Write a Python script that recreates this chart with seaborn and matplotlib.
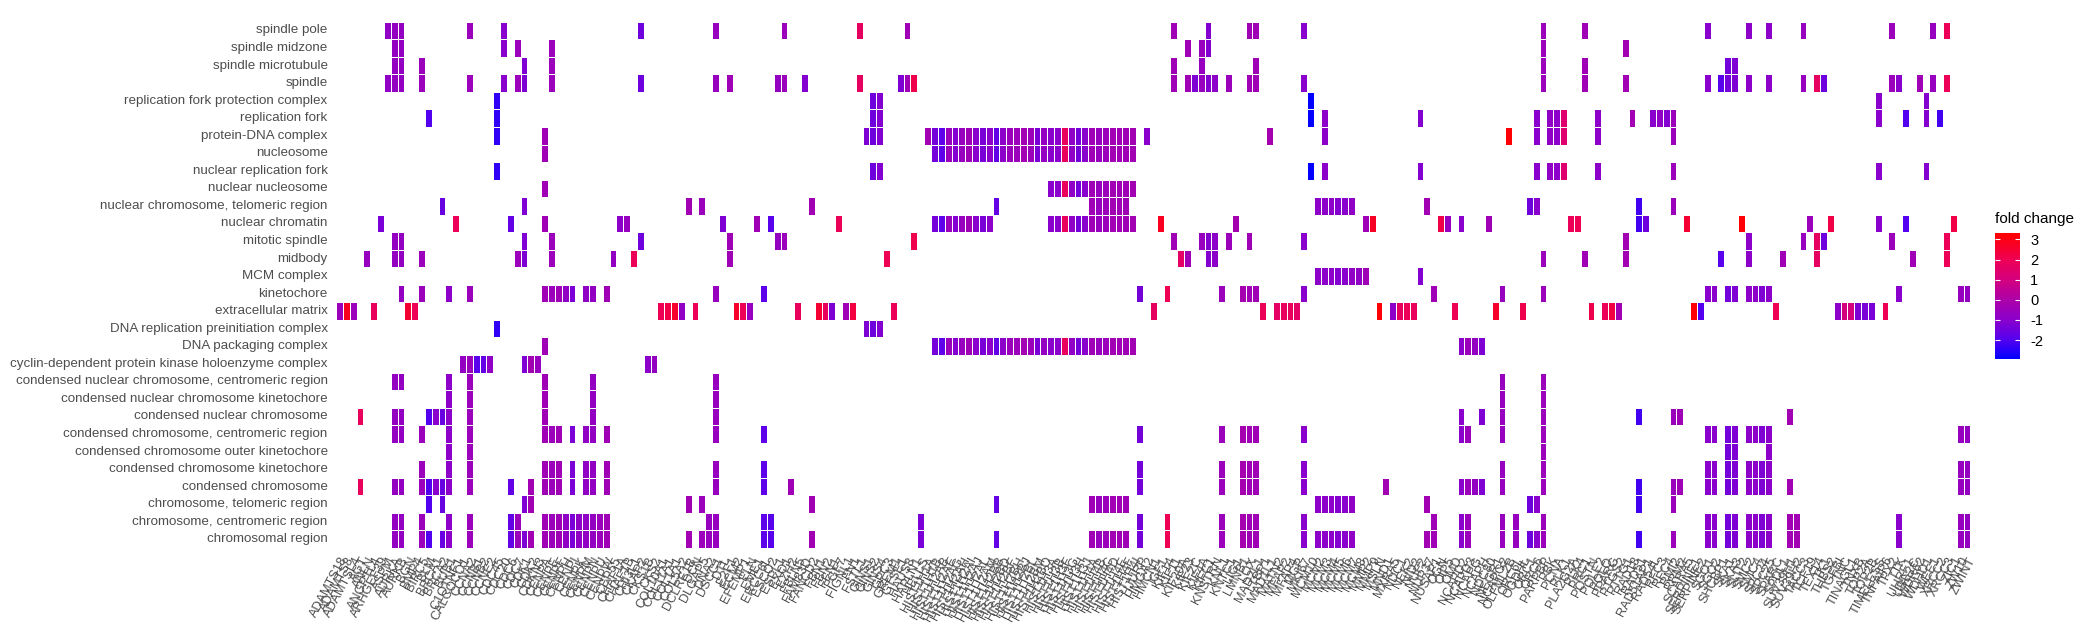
import numpy as np
import pandas as pd
import matplotlib
matplotlib.use("Agg")
import matplotlib.pyplot as plt
import seaborn as sns
from matplotlib.colors import LinearSegmentedColormap

# GO terms, top to bottom
go_terms = [
    "spindle pole", "spindle midzone", "spindle microtubule", "spindle",
    "replication fork protection complex", "replication fork", "protein-DNA complex",
    "nucleosome", "nuclear replication fork", "nuclear nucleosome",
    "nuclear chromosome, telomeric region", "nuclear chromatin", "mitotic spindle",
    "midbody", "MCM complex", "kinetochore", "extracellular matrix",
    "DNA replication preinitiation complex", "DNA packaging complex",
    "cyclin-dependent protein kinase holoenzyme complex",
    "condensed nuclear chromosome, centromeric region",
    "condensed nuclear chromosome kinetochore", "condensed nuclear chromosome",
    "condensed chromosome, centromeric region", "condensed chromosome outer kinetochore",
    "condensed chromosome kinetochore", "condensed chromosome",
    "chromosome, telomeric region", "chromosome, centromeric region", "chromosomal region",
]

# Gene names (mostly unreadable in the original, best guess)
genes = [
    "ADAMTS18", "ADAMTS8", "ADAMTSL4", "AGT", "ANLN", "ANGPTL4", "ARHGEF39", "ASPM", "AURKA", "AURKB",
    "BGN", "BMP4", "BIRC5", "BLM", "BRCA1", "BRCA2", "BUB1", "C1QTNF1", "CALCOCO1", "CCNA2",
    "CCNB1", "CCNB2", "CCNE2", "CDC45", "CDC20", "CDC6", "CDC7", "CDK1", "CDK2", "CDKN3",
    "CENPA", "CENPE", "CENPF", "CENPH", "CENPI", "CENPK", "CENPM", "CENPN", "CENPU", "CENPW",
    "CEP55", "CHAF1A", "CHAF1B", "CHI3L1", "CKAP2", "CKS1B", "CKS2", "COL10A1", "COL11A1", "COL1A1",
    "COL5A2", "DCLRE1B", "DCN", "DLGAP5", "DNA2", "DSCC1", "DTL", "E2F1", "ECM2", "EFEMP1",
    "ELN", "EME1", "ERCC6L", "ESCO2", "ESPL1", "EXO1", "EZH2", "FBLN5", "FAM83D", "FANCD2",
    "FBN1", "FBN2", "FEN1", "FGF7", "FIGNL1", "FN1", "FSTL1", "GINS1", "GINS2", "GINS4",
    "GPC3", "GREM1", "GTSE1", "HAUS8", "HAPLN1", "HELLS", "HIST1H1A", "HIST1H1B", "HIST1H2AB", "HIST1H2AE",
    "HIST1H2AG", "HIST1H2AH", "HIST1H2AI", "HIST1H2AJ", "HIST1H2AL", "HIST1H2AM", "HIST1H2BB", "HIST1H2BD", "HIST1H2BF", "HIST1H2BH",
    "HIST1H2BJ", "HIST1H2BL", "HIST1H2BM", "HIST1H2BO", "HIST1H3A", "HIST1H3B", "HIST1H3F", "HIST1H3G", "HIST1H3H", "HIST1H3J",
    "HIST1H4A", "HIST1H4B", "HIST1H4C", "HIST1H4D", "HIST1H4E", "HIST1H4F", "HIST1H4I", "HJURP", "HMGA2", "HMCN1",
    "IGF1", "KIF14", "KIF11", "KIF20A", "KIF23", "KIF2C", "KIF4A", "KIFC1", "KNSTRN", "KNL1",
    "KNTC1", "LIG1", "LMNB1", "LOX", "MAD2L1", "LTBP1", "MAD1L1", "MATN2", "MFAP2", "MFAP4",
    "MGP", "MKI67", "MCM10", "MCM2", "MCM3", "MCM4", "MCM5", "MCM6", "MCM7", "MCM8",
    "MMP2", "MMP9", "MSLN", "MND1", "MXRA5", "NDC1", "NEK2", "NID2", "NUF2", "NUP37",
    "NUSAP1", "OGN", "OIP5", "OMD", "NCAPD2", "NCAPD3", "NCAPG", "NCAPH", "NDC80", "NEGR1",
    "NCAPG2", "OLFML2B", "ORC6L", "OGDHL", "ORC1", "ORC6", "PARPBP", "PBK", "PCNA", "PLK1",
    "PLA2G2A", "PLK4", "PRC1", "POSTN", "POLE2", "POLQ", "PPARG", "PTGS2", "PTTG1", "RAD18",
    "RAD51", "RAD51AP1", "RAD54L", "RFC3", "RFC4", "RMI2", "RRM2", "SCARA5", "SERPINE1", "SERPINE2",
    "SGO1", "SGO2", "SHCBP1", "SKA1", "SKA3", "SLIT2", "SMC2", "SMC4", "SPC24", "SPC25",
    "SPARC", "SPDL1", "SUV39H1", "SUV39H2", "TACC3", "TCF19", "TEX14", "TK1", "THBS2", "TGFBI",
    "TNC", "TINAGL1", "TNXB", "TOP2A", "TOP2B", "TIMELESS", "TNFAIP6", "TPX2", "TTK", "UHRF1",
    "UBE2C", "WDR62", "WDHD1", "WEE1", "XRCC2", "XRCC3", "ZIC1", "ZW10", "ZWINT",
]

# log fold change per gene
fold_change = [
    -0.5, 2.8, -0.5, 1.8, -0.6, 1.8, -1.3, -0.8, -0.7, -0.7,
    2.5, 2.0, -0.5, -2.0, -1.0, -1.6, -0.9, 1.9, -0.7, -0.5,
    -1.9, -1.7, -0.8, -2.4, -1.0, -1.7, -0.5, -1.2, -0.3, -0.6,
    -0.4, -0.5, -0.4, -0.8, -1.3, -0.8, -0.8, -0.7, -0.5, -0.4,
    -0.7, -0.9, -0.6, 1.9, -1.5, -0.9, -0.7, 2.0, 2.2, 2.6,
    -0.8, -0.3, 1.9, -0.5, -0.6, -0.6, -1.2, -0.4, 2.6, 2.0,
    -0.6, -0.4, -1.8, -1.9, -0.7, -0.5, -0.4, 1.8, -1.1, -0.3,
    2.5, 1.8, -1.2, 1.9, -0.4, 2.3, 1.7, -1.2, -1.5, -1.1,
    2.0, 1.9, -1.2, -0.4, 2.1, -1.3, -0.3, -1.4, -1.8, -0.5,
    -1.1, -0.6, -0.4, -1.0, -1.3, -0.9, -1.7, -0.9, -0.5, -0.5,
    -0.3, -0.5, -1.3, -0.7, -1.0, -1.0, 1.8, -0.8, -1.4, -1.0,
    -0.4, -0.6, -0.5, -0.3, -0.4, -0.4, -0.3, -1.4, -1.0, 1.7,
    2.8, 2.0, -0.4, 1.6, -0.4, -1.2, -0.6, -1.1, -0.9, -0.5,
    -0.5, -0.2, -0.2, -0.4, -0.4, 1.9, -0.2, 1.6, 1.8, 1.8,
    1.6, -1.0, -2.9, -0.9, -0.9, -0.9, -1.1, -1.0, -0.8, -0.8,
    -0.4, 2.7, 3.2, -0.3, -0.9, 1.7, 1.9, 1.8, -1.1, -0.3,
    -0.4, 2.2, -0.6, 2.0, -1.0, -0.5, -0.7, -1.2, -0.4, 2.6,
    -0.6, 3.2, -0.6, 2.1, -1.5, -1.0, -0.5, -0.8, -0.9, 1.4,
    1.9, 2.0, -0.4, 2.1, -0.9, 1.9, 2.3, -0.3, -0.3, -0.3,
    -2.2, -1.5, -1.0, -0.8, -1.1, -0.5, -0.4, 2.5, 3.2, -2.0,
    -1.0, -1.0, -1.9, -1.4, -1.2, 3.2, -0.9, -0.9, -1.2, -0.9,
    2.0, -0.4, -0.3, -0.3, -0.6, -0.5, 1.7, -1.5, 2.2, -0.9,
    1.0, 1.0, -1.2, -1.3, -1.3, -1.0, 2.0, -0.5, -1.0, -2.0,
    -0.4, -0.4, -1.1, -0.6, -2.2, 1.9, 2.2, -0.6, -0.7,
]

# Which genes (by position in genes) belong to each GO term, same order as go_terms
term_members = [
    [7, 8, 9, 19, 24, 44, 55, 65, 76, 83, 122, 127, 133, 134, 141, 176, 182, 200, 206, 209, 214, 227, 233, 235],
    [8, 9, 24, 26, 31, 124, 126, 127, 176, 188],
    [8, 9, 12, 27, 31, 122, 126, 134, 176, 182, 203, 204],
    [7, 8, 9, 12, 19, 24, 26, 27, 31, 44, 55, 57, 64, 65, 68, 76, 82, 83, 84, 122, 124, 125, 126, 127, 128, 130, 133, 134, 141, 176, 182, 188, 200, 202, 203, 204, 206, 209, 214, 216, 217, 227, 228, 231, 233, 235],
    [23, 78, 79, 142, 225, 232],
    [13, 23, 78, 79, 142, 144, 158, 175, 177, 178, 179, 184, 189, 192, 193, 194, 195, 225, 229, 232, 234],
    [23, 30, 77, 78, 79, 86, 87, 88, 89, 90, 91, 92, 93, 94, 95, 96, 97, 98, 99, 100, 101, 102, 103, 104, 105, 106, 107, 108, 109, 110, 111, 112, 113, 114, 115, 116, 118, 136, 144, 171, 175, 177, 178, 179, 184, 195],
    [30, 87, 88, 89, 90, 91, 92, 93, 94, 95, 96, 97, 98, 99, 100, 101, 102, 103, 104, 105, 106, 107, 108, 109, 110, 111, 112, 113, 114, 115, 116],
    [23, 78, 79, 142, 144, 158, 175, 177, 178, 179, 184, 195, 225, 232],
    [30, 104, 105, 106, 107, 108, 109, 110, 111, 112, 113, 114, 115, 116],
    [15, 27, 51, 53, 69, 96, 110, 111, 112, 113, 114, 115, 143, 144, 145, 146, 147, 148, 159, 174, 175, 190, 195],
    [6, 17, 25, 30, 41, 42, 56, 61, 63, 73, 87, 88, 89, 90, 91, 92, 93, 94, 95, 104, 105, 106, 107, 108, 109, 110, 111, 112, 113, 114, 115, 116, 120, 131, 150, 151, 161, 162, 164, 168, 180, 181, 190, 191, 197, 205, 215, 218, 225, 229, 236],
    [8, 9, 27, 31, 44, 57, 64, 65, 84, 122, 126, 127, 128, 130, 133, 141, 188, 206, 214, 216, 217, 227, 235],
    [4, 8, 9, 12, 26, 27, 31, 40, 43, 57, 80, 123, 124, 127, 128, 176, 182, 188, 202, 206, 211, 216, 230, 235],
    [143, 144, 145, 146, 147, 148, 149, 150, 158],
    [9, 12, 16, 19, 30, 31, 32, 33, 34, 36, 37, 39, 55, 62, 117, 121, 129, 132, 133, 134, 141, 160, 170, 176, 200, 201, 203, 204, 206, 207, 208, 209, 228, 237, 238],
    [0, 1, 2, 5, 10, 11, 47, 48, 49, 50, 52, 58, 59, 60, 67, 70, 71, 72, 74, 75, 81, 119, 135, 137, 138, 139, 140, 152, 154, 155, 156, 157, 163, 169, 173, 183, 185, 186, 187, 198, 199, 210, 219, 220, 221, 222, 223, 224, 226],
    [23, 77, 78, 79],
    [30, 87, 88, 89, 90, 91, 92, 93, 94, 95, 96, 97, 98, 99, 100, 101, 102, 103, 104, 105, 106, 107, 108, 109, 110, 111, 112, 113, 114, 115, 116, 164, 165, 166, 167],
    [18, 19, 20, 21, 22, 27, 28, 29, 45, 46],
    [8, 9, 16, 19, 30, 37, 55, 170, 176],
    [16, 19, 30, 37, 55, 170, 176],
    [3, 8, 9, 13, 14, 15, 16, 19, 30, 37, 55, 164, 167, 170, 176, 190, 195, 196, 212],
    [8, 9, 12, 16, 19, 30, 31, 32, 34, 36, 37, 39, 55, 62, 117, 129, 132, 133, 134, 141, 164, 165, 170, 176, 200, 201, 203, 204, 206, 207, 208, 209, 237, 238],
    [16, 19, 176, 203, 204, 209],
    [12, 16, 19, 30, 31, 32, 34, 36, 37, 39, 55, 62, 117, 129, 132, 133, 134, 141, 170, 176, 200, 201, 203, 204, 206, 207, 208, 209, 237, 238],
    [3, 8, 9, 12, 13, 14, 15, 16, 19, 25, 28, 30, 31, 32, 34, 36, 37, 39, 55, 62, 66, 117, 129, 132, 133, 134, 141, 153, 164, 165, 166, 167, 170, 176, 190, 195, 196, 200, 201, 203, 204, 206, 207, 208, 209, 212, 237, 238],
    [13, 15, 27, 28, 51, 53, 69, 96, 110, 111, 112, 113, 114, 115, 143, 144, 145, 146, 147, 148, 159, 174, 175, 190, 195],
    [8, 9, 12, 16, 19, 25, 26, 30, 31, 32, 33, 34, 35, 36, 37, 38, 39, 54, 55, 62, 63, 85, 117, 121, 129, 132, 133, 134, 141, 160, 164, 165, 170, 172, 176, 200, 201, 203, 204, 206, 207, 208, 209, 212, 213, 228, 237, 238],
    [8, 9, 12, 13, 15, 16, 19, 25, 26, 27, 28, 30, 31, 32, 33, 34, 35, 36, 37, 38, 39, 51, 53, 54, 55, 62, 63, 69, 85, 96, 110, 111, 112, 113, 114, 115, 117, 121, 129, 132, 133, 134, 141, 143, 144, 145, 146, 147, 148, 159, 160, 164, 165, 170, 172, 174, 175, 176, 190, 195, 200, 201, 203, 204, 206, 207, 208, 209, 212, 213, 228, 237, 238],
]

legend_ticks = [-2, -1, 0, 1, 2, 3]

# Build the term x gene table, empty cells stay NaN
df = pd.DataFrame(np.nan, index=go_terms, columns=genes)
for term, members in zip(go_terms, term_members):
    for m in members:
        df.loc[term, genes[m]] = fold_change[m]

low, high = -2.94, 3.3
stops = [(-2.94, "#0000ff"), (-2.0, "#5400f0"), (-1.0, "#8a00cc"), (0.0, "#ac00a8"),
         (1.0, "#d4007e"), (2.0, "#ee0054"), (3.3, "#ff0000")]
cmap = LinearSegmentedColormap.from_list(
    "foldchange", [((v - low) / (high - low), c) for v, c in stops])

W, H = 2094, 633
plt.rcParams["font.family"] = ["Liberation Sans", "DejaVu Sans"]
fig = plt.figure(figsize=(W / 100, H / 100), dpi=100)
ax = fig.add_axes([336 / W, 1 - 548 / H, (1970.5 - 336) / W, (548 - 21.7) / H])
cax = fig.add_axes([1995.4 / W, 1 - 359 / H, 25 / W, (359 - 233.4) / H])

sns.heatmap(df, ax=ax, cbar_ax=cax, cmap=cmap, vmin=low, vmax=high,
            linewidths=0.45, linecolor="white",
            xticklabels=True, yticklabels=True,
            cbar_kws={"ticks": legend_ticks})

ax.tick_params(axis="both", length=0, labelcolor="#4d4d4d")
ax.tick_params(axis="y", pad=6, labelsize=9.65, rotation=0)
ax.tick_params(axis="x", pad=5, labelsize=9.2)
for lab in ax.get_xticklabels():
    lab.set_rotation(62)
    lab.set_ha("right")
    lab.set_rotation_mode("anchor")

# Legend: white tick marks inside the bar, label above
cbar = ax.collections[0].colorbar
cbar.outline.set_visible(False)
cbar.ax.tick_params(length=0, pad=7, labelsize=10.5, labelcolor="black")
cbar.set_ticklabels([str(t) for t in legend_ticks])
cax.hlines(legend_ticks, 0, 0.2, color="white", lw=0.8)
cax.hlines(legend_ticks, 0.8, 1, color="white", lw=0.8)
fig.text(1995 / W, 1 - 222.5 / H, "fold change", fontsize=11, color="black")

fig.savefig("out.png", dpi=100)
